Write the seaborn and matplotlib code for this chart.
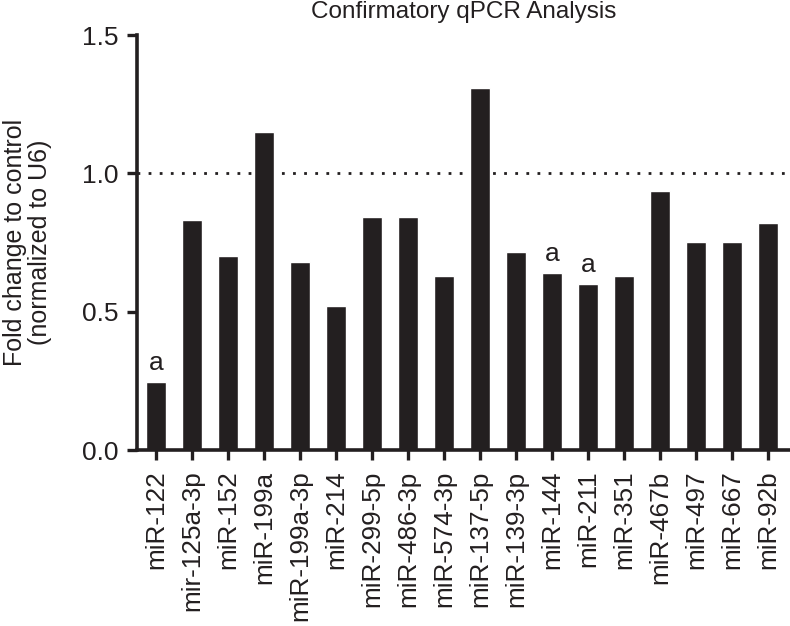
import matplotlib
matplotlib.use("Agg")
import matplotlib.pyplot as plt
import seaborn as sns
import pandas as pd

# values
mirnas = ["miR-122", "mir-125a-3p", "miR-152", "miR-199a", "miR-199a-3p",
          "miR-214", "miR-299-5p", "miR-486-3p", "miR-574-3p", "miR-137-5p",
          "miR-139-3p", "miR-144", "miR-211", "miR-351", "miR-467b",
          "miR-497", "miR-667", "miR-92b"]
fold_change = [0.247, 0.831, 0.703, 1.151, 0.680, 0.520, 0.843, 0.843, 0.629,
               1.307, 0.717, 0.641, 0.602, 0.629, 0.936, 0.751, 0.753, 0.819]
significant = ["miR-122", "miR-144", "miR-211"]

data = pd.DataFrame({"mirna": mirnas, "fold": fold_change})
ink = "#231f20"

sns.set_theme(style="ticks")
plt.rcParams["font.family"] = ["Liberation Sans", "DejaVu Sans"]

fig = plt.figure(figsize=(7.9, 6.26), dpi=100)
ax = fig.add_axes([0.1734, 0.281, 0.8266, 0.663])

# dotted reference line at 1.0, behind the bars
ax.axhline(1.0, color=ink, linestyle=(0, (1, 3)), linewidth=2, zorder=0)

sns.barplot(data=data, x="mirna", y="fold", color=ink, saturation=1,
            width=0.55, ax=ax, zorder=2)

# significance letters
for i, (name, val) in enumerate(zip(mirnas, fold_change)):
    if name in significant:
        ax.text(i, val + 0.043, "a", ha="center", va="baseline", fontsize=19,
                color=ink, family=["Liberation Sans Narrow", "Liberation Sans"])

ax.set_ylim(0, 1.5)
ax.set_xlim(-0.53, 17.61)
ax.set_yticks([0.0, 0.5, 1.0, 1.5])
ax.set_yticklabels(["0.0", "0.5", "1.0", "1.5"])
ax.tick_params(axis="y", labelsize=19, length=7.2, width=2.4, color=ink,
               labelcolor=ink, pad=6)
ax.tick_params(axis="x", labelsize=18.8, length=7.2, width=2.4, color=ink,
               labelcolor=ink, rotation=90, pad=7.5)

ax.set_xlabel("")
ax.set_ylabel("Fold change to control\n(normalized to U6)", fontsize=18,
              color=ink, va="center", linespacing=1.05)
ax.yaxis.set_label_coords(-0.168, 0.5)
ax.set_title("Confirmatory qPCR Analysis", fontsize=17.5, color=ink, pad=12)

sns.despine(ax=ax)
for side in ["left", "bottom"]:
    ax.spines[side].set_linewidth(2.6)
    ax.spines[side].set_color(ink)

fig.savefig("out.png", dpi=100)
